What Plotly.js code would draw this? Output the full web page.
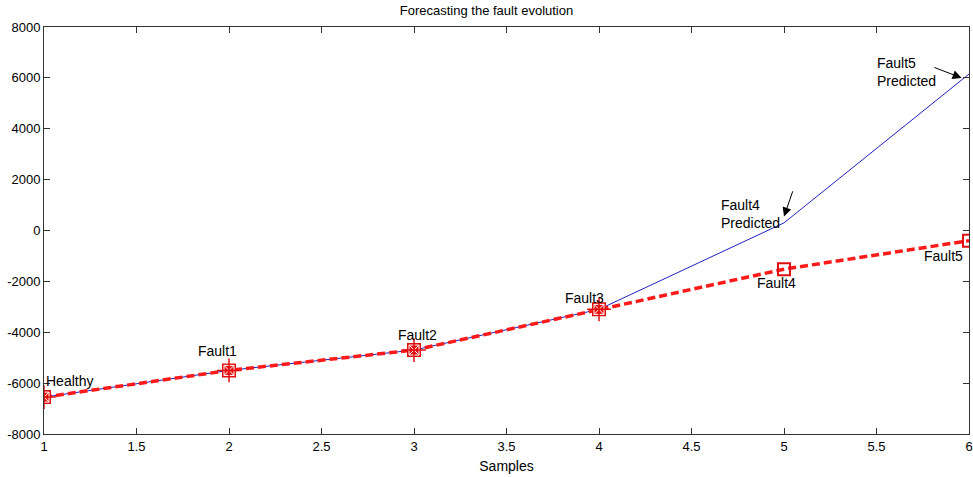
<!DOCTYPE html>
<html>
<head>
<meta charset="utf-8">
<script src="https://cdn.plot.ly/plotly-3.0.1.min.js"></script>
<style>
  html, body { margin: 0; padding: 0; background: #fff; }
  #chart { width: 973px; height: 477px; }
</style>
</head>
<body>
<div id="chart"></div>
<script>
// Samples along the x axis
var samples = [1, 2, 3, 4, 5, 6];
// Measured fault indicator at each sample
var actual = [-6550, -5500, -4700, -3100, -1520, -400];
// Forecast of the indicator (follows the measurements up to sample 4)
var predicted = [-6550, -5500, -4700, -3100, 300, 6150];
// Point labels
var stateLabels = ['Healthy', 'Fault1', 'Fault2', 'Fault3', 'Fault4', 'Fault5'];
var predictedLabels = ['Fault4<br>Predicted', 'Fault5<br>Predicted'];

var tickVals = [-8000, -6000, -4000, -2000, 0, 2000, 4000, 6000, 8000];

var font = 'Liberation Sans, Arial, sans-serif';

var traces = [
  {
    x: samples, y: predicted, type: 'scatter', mode: 'lines',
    line: { color: '#2020c0', width: 1 }, hoverinfo: 'skip'
  },
  {
    x: samples, y: actual, type: 'scatter', mode: 'lines',
    line: { color: '#ff1a1a', width: 3.5, dash: '8px,4px' }, hoverinfo: 'skip'
  },
  {
    x: samples, y: actual, type: 'scatter', mode: 'markers',
    marker: { symbol: 'square-open', size: 12, color: '#e01010', line: { width: 2, color: '#e01010' } },
    hoverinfo: 'skip'
  },
  {
    x: samples.slice(0, 4), y: predicted.slice(0, 4), type: 'scatter', mode: 'markers',
    marker: { symbol: 'square-x', size: 10, color: '#e81010', line: { width: 1, color: '#ffffff' } },
    hoverinfo: 'skip'
  },
  {
    x: samples.slice(0, 4), y: predicted.slice(0, 4), type: 'scatter', mode: 'markers',
    marker: { symbol: 'cross-thin-open', size: 17, color: '#e01010', line: { width: 1.5, color: '#e01010' } },
    hoverinfo: 'skip'
  }
];

function label(x, y, text, xanchor) {
  return {
    x: x, y: y, xref: 'x', yref: 'y', text: text, showarrow: false,
    xanchor: xanchor || 'center', yanchor: 'middle', align: 'left',
    font: { family: font, size: 14, color: '#000' }
  };
}

function arrow(x, y, ax, ay) {
  return {
    x: x, y: y, ax: ax, ay: ay, xref: 'x', yref: 'y', axref: 'x', ayref: 'y',
    text: '', showarrow: true, arrowhead: 2, arrowsize: 1.8, arrowwidth: 1, arrowcolor: '#000'
  };
}

var annotations = [
  label(1.0, -5900, stateLabels[0], 'left'),
  label(1.94, -4750, stateLabels[1]),
  label(3.02, -4100, stateLabels[2]),
  label(3.92, -2650, stateLabels[3]),
  label(4.96, -2080, stateLabels[4]),
  label(5.86, -1000, stateLabels[5]),
  label(4.65, 650, predictedLabels[0], 'left'),
  label(5.49, 6250, predictedLabels[1], 'left'),
  arrow(samples[4], predicted[4] + 250, 5.05, 1600),
  arrow(5.96, 6000, 5.805, 6430)
];

var axisCommon = {
  showgrid: false, zeroline: false, showline: true, mirror: 'ticks',
  linecolor: '#333', linewidth: 1, ticks: 'inside', ticklen: 6, tickcolor: '#333',
  tickfont: { family: font, size: 13, color: '#000' }
};

var layout = {
  width: 973, height: 477,
  margin: { l: 44, r: 4, t: 27, b: 43 },
  paper_bgcolor: '#fff', plot_bgcolor: '#fff',
  showlegend: false,
  title: { text: 'Forecasting the fault evolution', x: 0.5, xanchor: 'center', y: 0.988, yanchor: 'top',
           font: { family: font, size: 13, color: '#000' } },
  xaxis: Object.assign({}, axisCommon, {
    range: [1, 6], tickvals: [1, 1.5, 2, 2.5, 3, 3.5, 4, 4.5, 5, 5.5, 6],
    ticktext: ['1', '1.5', '2', '2.5', '3', '3.5', '4', '4.5', '5', '5.5', '6'],
    title: { text: 'Samples', font: { family: font, size: 14, color: '#000' }, standoff: 8 }
  }),
  yaxis: Object.assign({}, axisCommon, {
    range: [-8000, 8000], tickvals: tickVals, ticktext: tickVals.map(String)
  }),
  annotations: annotations
};

Plotly.newPlot('chart', traces, layout, { displayModeBar: false, staticPlot: true });
</script>
</body>
</html>
